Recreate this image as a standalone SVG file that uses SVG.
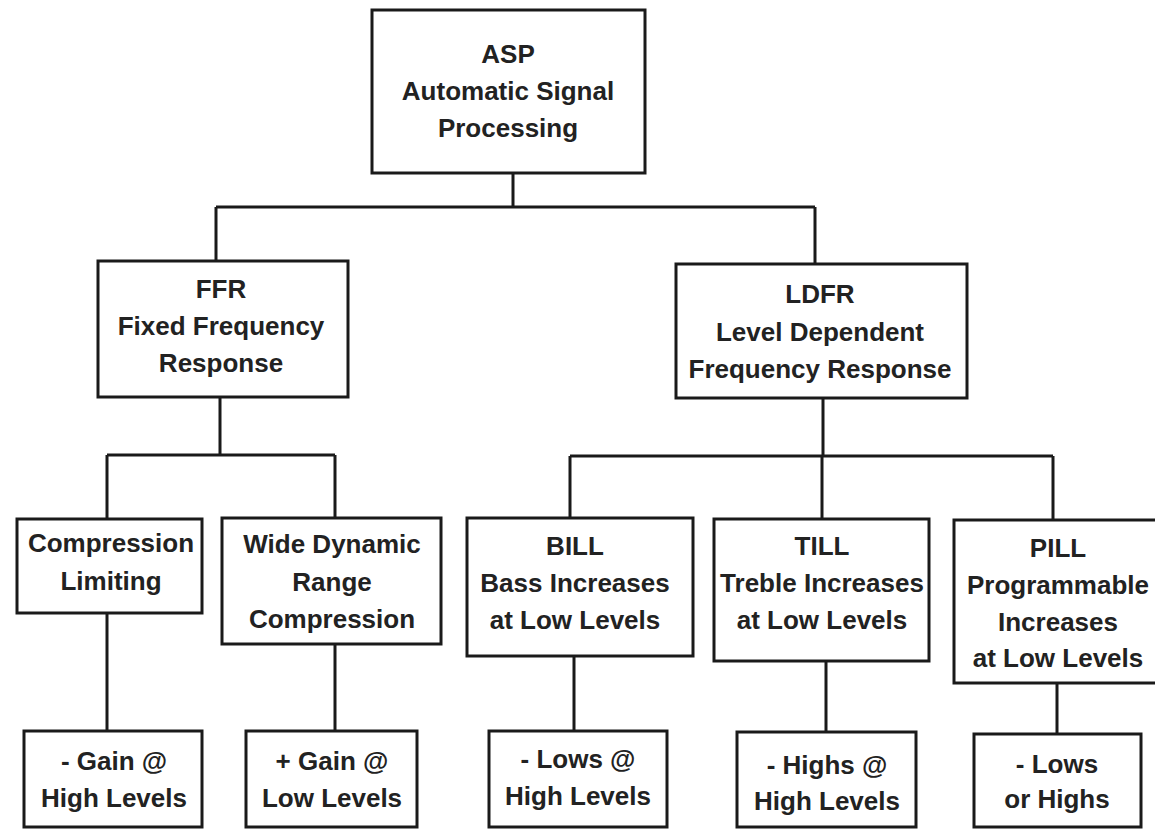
<svg xmlns="http://www.w3.org/2000/svg" width="1155" height="829" viewBox="0 0 1155 829">
<style>
.box{fill:#fff;stroke:#1a1a1a;stroke-width:3}
.ln{fill:none;stroke:#1a1a1a;stroke-width:3}
text{font-family:"Liberation Sans",Arial,sans-serif;font-weight:bold;font-size:26px;fill:#222;text-anchor:middle}
</style>
<rect width="1155" height="829" fill="#fff"/>
<g id="connectors">
<path class="ln" d="M513,173V207M216,207H815M216,207V261M815,207V264"/>
<path class="ln" d="M220,397V455M107,455H335M107,455V519M335,455V518"/>
<path class="ln" d="M823,398V456M570,456H1053M570,456V518M822,456V519M1053,456V520"/>
<path class="ln" d="M107,613V731M335,644V731M574,656V731M826,661V732M1057,683V734"/>
</g>
<g id="asp"><rect class="box" x="372" y="10" width="273" height="163"/>
<text x="508" y="63">ASP</text><text x="508" y="100">Automatic Signal</text><text x="508" y="137">Processing</text></g>
<g id="ffr"><rect class="box" x="98" y="261" width="250" height="136"/>
<text x="221" y="298">FFR</text><text x="221" y="335">Fixed Frequency</text><text x="221" y="372">Response</text></g>
<g id="ldfr"><rect class="box" x="676" y="264" width="291" height="134"/>
<text x="820" y="303">LDFR</text><text x="820" y="341">Level Dependent</text><text x="820" y="378">Frequency Response</text></g>
<g id="cl"><rect class="box" x="17" y="519" width="185" height="94"/>
<text x="111" y="552">Compression</text><text x="111" y="590">Limiting</text></g>
<g id="wdrc"><rect class="box" x="222" y="518" width="219" height="126"/>
<text x="332" y="553">Wide Dynamic</text><text x="332" y="591">Range</text><text x="332" y="628">Compression</text></g>
<g id="bill"><rect class="box" x="467" y="518" width="226" height="138"/>
<text x="575" y="555">BILL</text><text x="575" y="592">Bass Increases</text><text x="575" y="629">at Low Levels</text></g>
<g id="till"><rect class="box" x="714" y="519" width="215" height="142"/>
<text x="822" y="555">TILL</text><text x="822" y="592">Treble Increases</text><text x="822" y="629">at Low Levels</text></g>
<g id="pill"><rect class="box" x="954" y="520" width="210" height="163"/>
<text x="1058" y="557">PILL</text><text x="1058" y="594">Programmable</text><text x="1058" y="631">Increases</text><text x="1058" y="667">at Low Levels</text></g>
<g id="gain-high"><rect class="box" x="24" y="731" width="178" height="96"/>
<text x="114" y="770">- Gain @</text><text x="114" y="807">High Levels</text></g>
<g id="gain-low"><rect class="box" x="246" y="731" width="171" height="96"/>
<text x="332" y="770">+ Gain @</text><text x="332" y="807">Low Levels</text></g>
<g id="lows-high"><rect class="box" x="489" y="731" width="178" height="96"/>
<text x="578" y="768">- Lows @</text><text x="578" y="805">High Levels</text></g>
<g id="highs-high"><rect class="box" x="737" y="732" width="179" height="95"/>
<text x="827" y="774">- Highs @</text><text x="827" y="810">High Levels</text></g>
<g id="lows-highs"><rect class="box" x="974" y="734" width="167" height="93"/>
<text x="1057" y="773">- Lows</text><text x="1057" y="808">or Highs</text></g>
</svg>
